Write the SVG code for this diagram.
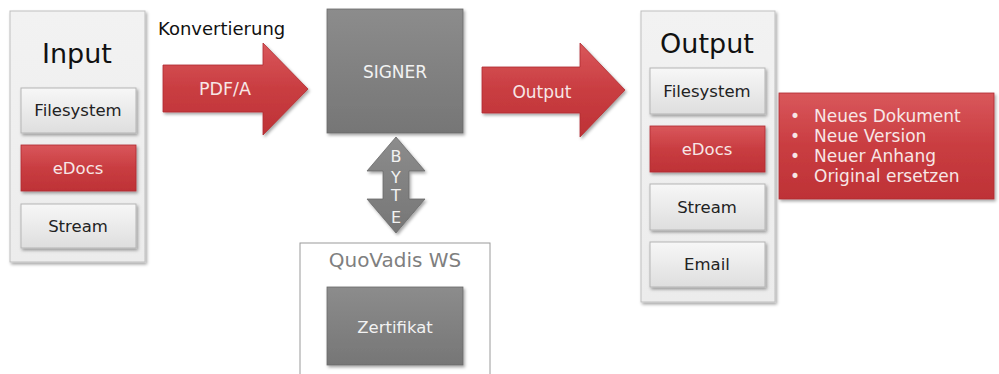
<svg xmlns="http://www.w3.org/2000/svg" width="999" height="374" viewBox="0 0 999 374">
<defs>
  <linearGradient id="gRed" x1="0" y1="0" x2="0" y2="1">
    <stop offset="0" stop-color="#d9575b"/>
    <stop offset="0.5" stop-color="#c93d41"/>
    <stop offset="1" stop-color="#be3236"/>
  </linearGradient>
  <linearGradient id="gGray" x1="0" y1="0" x2="0" y2="1">
    <stop offset="0" stop-color="#8c8c8c"/>
    <stop offset="1" stop-color="#767676"/>
  </linearGradient>
  <linearGradient id="gLight" x1="0" y1="0" x2="0" y2="1">
    <stop offset="0" stop-color="#f7f7f7"/>
    <stop offset="1" stop-color="#dedede"/>
  </linearGradient>
  <linearGradient id="gCont" x1="0" y1="0" x2="0" y2="1">
    <stop offset="0" stop-color="#f2f2f2"/>
    <stop offset="1" stop-color="#ececec"/>
  </linearGradient>
  <filter id="sh" x="-10%" y="-10%" width="125%" height="125%">
    <feDropShadow dx="1.5" dy="2" stdDeviation="1.5" flood-color="#000" flood-opacity="0.35"/>
  </filter>
</defs>
<style>
  text { font-family: "DejaVu Sans", Verdana, sans-serif; }
  .cont { fill: url(#gCont); stroke: #bfbfbf; stroke-width: 1; filter: url(#sh); }
  .light { fill: url(#gLight); stroke: #b5b5b5; stroke-width: 1; filter: url(#sh); }
  .red { fill: url(#gRed); stroke: #b02c30; stroke-width: 0.8; filter: url(#sh); }
  .gray { fill: url(#gGray); stroke: #6a6a6a; stroke-width: 0.8; filter: url(#sh); }
  .title { font-size: 27px; fill: #111; text-anchor: middle; }
  .dk { font-size: 16.5px; fill: #222; text-anchor: middle; }
  .wt { font-size: 16.5px; fill: #f7e6e6; text-anchor: middle; }
  .gt { font-size: 17px; fill: #f2f2f2; text-anchor: middle; }
  .lst { font-size: 17px; fill: #f7e6e6; }
</style>

<g id="connectors">
  <g id="arrow-pdfa">
    <path class="red" d="M163,65 H263 V43 L308,89 L263,135 V112 H163 Z"/>
    <text class="wt" x="225" y="95" style="font-size:17.5px">PDF/A</text>
  </g>
  <text x="158" y="35" style="font-size:18px;fill:#111">Konvertierung</text>
  <g id="arrow-output">
    <path class="red" d="M482,67 H580 V43 L625,90 L580,137 V113 H482 Z"/>
    <text class="wt" x="542" y="98" style="font-size:17px">Output</text>
  </g>
  <g id="arrow-byte">
    <path class="gray" d="M396,137 L425,171 H409 V199 H425 L396,233 L367,199 H383 V171 H367 Z"/>
    <text class="gt" x="396" y="162" style="font-size:16px">B</text>
    <text class="gt" x="396" y="183" style="font-size:16px">Y</text>
    <text class="gt" x="396" y="201" style="font-size:16px">T</text>
    <text class="gt" x="396" y="223" style="font-size:16px">E</text>
  </g>
</g>

<g id="input">
  <rect class="cont" x="10" y="11" width="135" height="251"/>
  <text class="title" x="77" y="63">Input</text>
  <g id="in-filesystem">
    <rect class="light" x="21" y="88" width="115" height="45"/>
    <text class="dk" x="78" y="116">Filesystem</text>
  </g>
  <g id="in-edocs">
    <rect class="red" x="21" y="145" width="115" height="46"/>
    <text class="wt" x="78" y="174">eDocs</text>
  </g>
  <g id="in-stream">
    <rect class="light" x="21" y="204" width="115" height="44"/>
    <text class="dk" x="78" y="232">Stream</text>
  </g>
</g>

<g id="signer">
  <rect class="gray" x="327" y="9" width="136" height="124"/>
  <text class="gt" x="395" y="78">SIGNER</text>
</g>

<g id="quovadis">
  <rect x="300" y="243" width="190" height="140" fill="#fff" stroke="#9a9a9a" stroke-width="1"/>
  <text x="395" y="267" style="font-size:20px;fill:#7f7f7f;text-anchor:middle">QuoVadis WS</text>
  <g id="zertifikat">
    <rect class="gray" x="327" y="287" width="136" height="78"/>
    <text class="gt" x="395" y="333" style="font-size:16.5px">Zertifikat</text>
  </g>
</g>

<g id="output">
  <rect class="cont" x="641" y="11" width="134" height="291"/>
  <text class="title" x="707" y="53">Output</text>
  <g id="out-filesystem">
    <rect class="light" x="650" y="68" width="115" height="46"/>
    <text class="dk" x="707" y="97">Filesystem</text>
  </g>
  <g id="out-edocs">
    <rect class="red" x="650" y="126" width="115" height="46"/>
    <text class="wt" x="707" y="155">eDocs</text>
  </g>
  <g id="out-stream">
    <rect class="light" x="650" y="184" width="115" height="46"/>
    <text class="dk" x="707" y="213">Stream</text>
  </g>
  <g id="out-email">
    <rect class="light" x="650" y="242" width="115" height="45"/>
    <text class="dk" x="707" y="270">Email</text>
  </g>
</g>

<g id="edocs-options">
  <rect class="red" x="779" y="93" width="215" height="106"/>
  <text class="lst" x="790" y="122">•</text>
  <text class="lst" x="814" y="122">Neues Dokument</text>
  <text class="lst" x="790" y="142">•</text>
  <text class="lst" x="814" y="142">Neue Version</text>
  <text class="lst" x="790" y="162">•</text>
  <text class="lst" x="814" y="162">Neuer Anhang</text>
  <text class="lst" x="790" y="182">•</text>
  <text class="lst" x="814" y="182">Original ersetzen</text>
</g>
</svg>
